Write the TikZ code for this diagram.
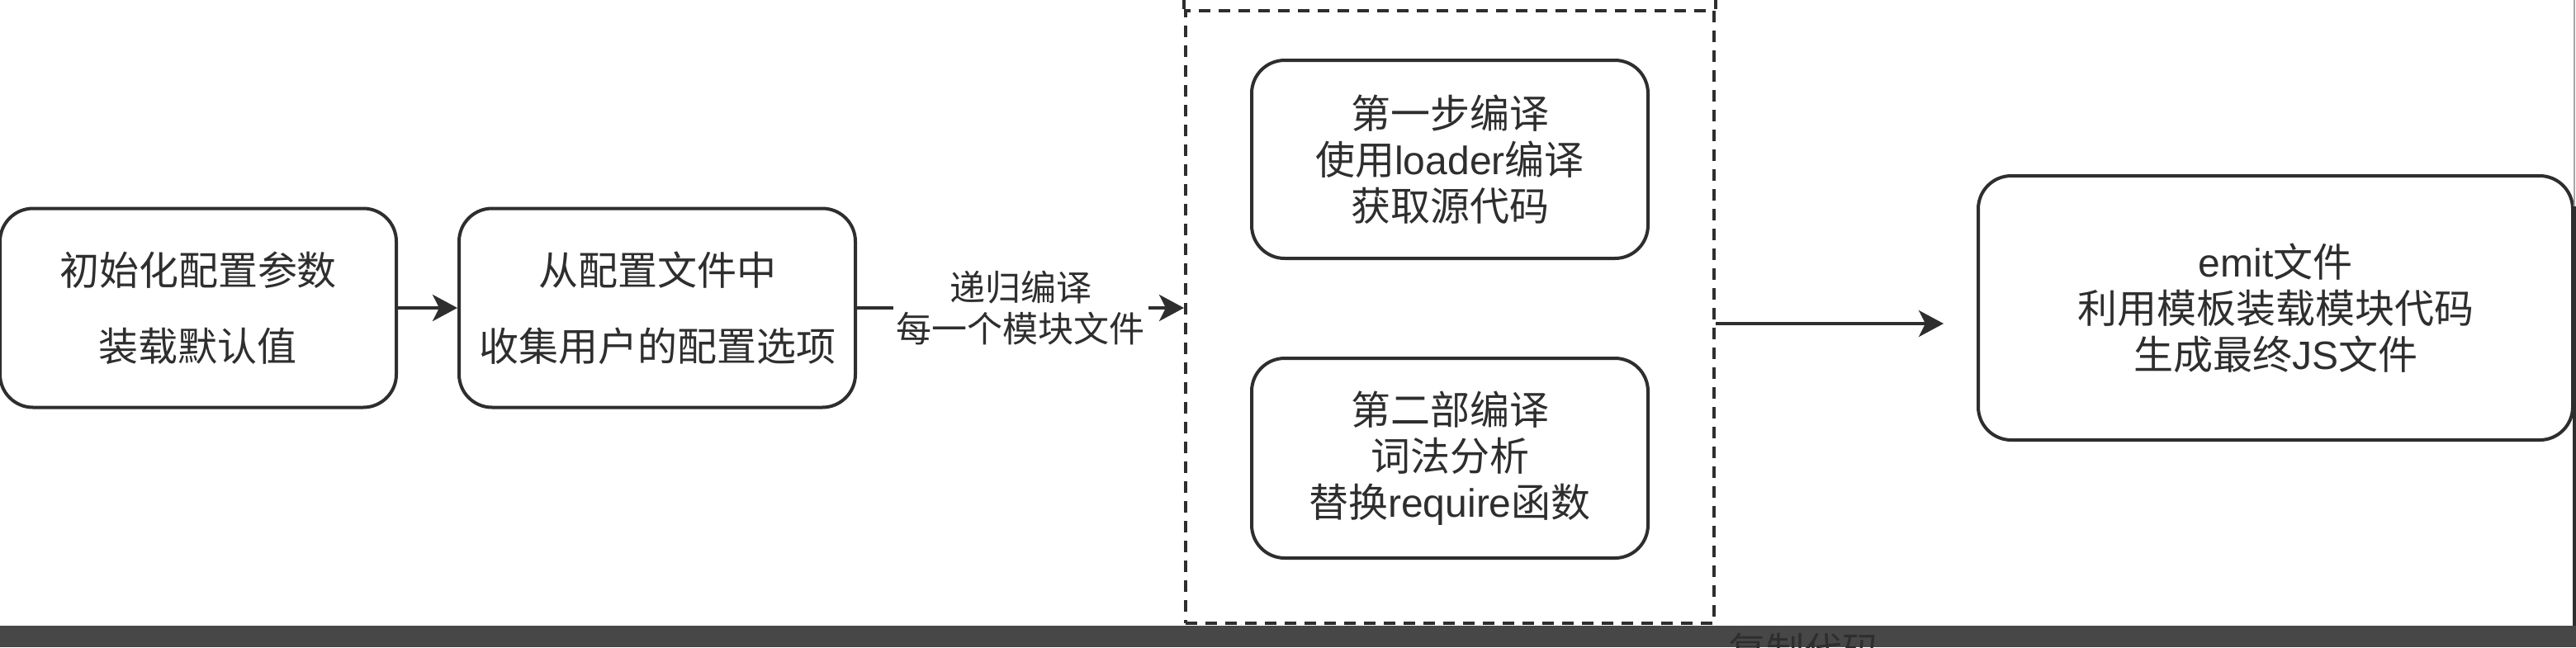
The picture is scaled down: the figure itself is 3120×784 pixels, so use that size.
\documentclass[tikz,border=0pt]{standalone}
\usepackage{fontspec}
\setmainfont{Noto Sans CJK SC}
\newfontfamily\latin{Liberation Sans}
\usetikzlibrary{arrows.meta}
\definecolor{ink}{HTML}{2E2E2E}
\definecolor{barc}{HTML}{474747}

\begin{document}
\begin{tikzpicture}[x=0.25pt,y=-0.25pt,
  stepbox/.style={draw=ink, line width=1pt, rounded corners=10pt, align=center, text=ink,
    inner sep=0pt, font=\fontsize{12pt}{14pt}\selectfont},
  groupbox/.style={draw=ink, line width=1pt, dash pattern=on 3.5pt off 2.5pt, inner sep=0pt},
  arr/.style={draw=ink, line width=1pt, -{Stealth[length=7.5pt,width=8pt,inset=2pt]}}]
\useasboundingbox (0,0) rectangle (3120,784);

% config steps
\node[stepbox, minimum width=120pt, minimum height=60.25pt] (init) at (240,373)
  {初始化配置参数\\[9pt]装载默认值};
\node[stepbox, minimum width=120pt, minimum height=60.25pt] (collect) at (796,373)
  {从配置文件中\\[9pt]收集用户的配置选项};

% compile group
\node[groupbox, minimum width=160pt, minimum height=185.5pt] (group) at (1756,384) {};
\draw[groupbox] (group.north west) -- ++(0,-13) (group.north east) -- ++(0,-13);
\node[stepbox, minimum width=120pt, minimum height=60pt] (first) at (1756,193)
  {第一步编译\\使用{\latin loader}编译\\获取源代码};
\node[stepbox, minimum width=120pt, minimum height=60.5pt] (second) at (1756,555)
  {第二部编译\\词法分析\\替换{\latin require}函数};

% output
\node[stepbox, minimum width=180pt, minimum height=80pt] (emit) at (2756,373)
  {{\latin emit}文件\\利用模板装载模块代码\\生成最终{\latin JS}文件};

\draw[arr] (init) -- (collect);
\draw[arr] (collect.east) -- node[fill=white, inner sep=1pt, text=ink, align=center,
    font=\fontsize{10.75pt}{12.5pt}\selectfont] {递归编译\\每一个模块文件}
  (collect.east -| group.west);
\coordinate (tip) at (2354,392);
\draw[arr] (group.east |- tip) -- (tip);

% screenshot edges
\fill[barc] (0,758) rectangle (3120,784);
\begin{scope}
\clip (0,758) rectangle (3120,784);
\node[text=ink, inner sep=0pt, font=\fontsize{11.5pt}{13pt}\selectfont] (copy) at (2185,788) {复制代码};
\end{scope}
\draw[gray!70, line width=0.5pt] (3118,0) -- (3118,250);
\fill[ink] (3116,250) rectangle (3120,758);

\end{tikzpicture}
\end{document}
